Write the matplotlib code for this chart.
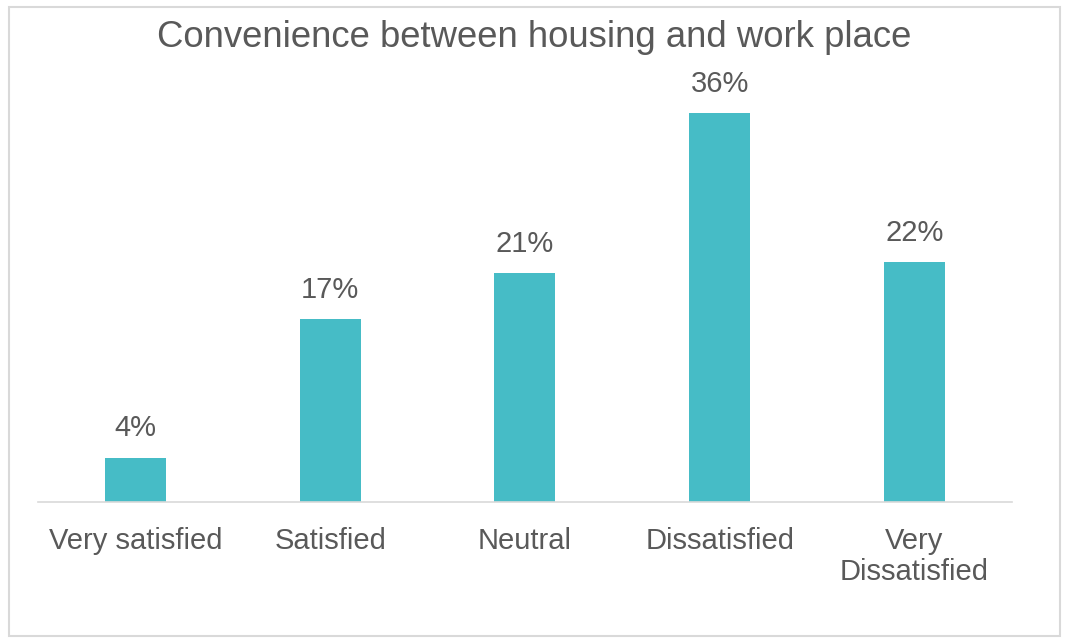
import matplotlib
matplotlib.use("Agg")
import matplotlib.pyplot as plt
from matplotlib.patches import Rectangle

# -----------------------------------------------------------
# Data
# -----------------------------------------------------------
categories  = ["Very satisfied", "Satisfied", "Neutral", "Dissatisfied", "Very\nDissatisfied"]
values      = [4.1, 16.9, 21.2, 36.0, 22.2]
labels      = ["4%", "17%", "21%", "36%", "22%"]

title       = "Convenience between housing and work place"

# -----------------------------------------------------------
# Style
# -----------------------------------------------------------
plt.rcParams["font.family"] = ["Liberation Sans", "DejaVu Sans"]
bar_color   = "#46BCC6"
text_color  = "#595959"
line_color  = "#D9D9D9"

fig = plt.figure(figsize=(10.69, 6.43), dpi=100)
ax  = fig.add_axes([0.0355, 0.2193, 0.9111, 0.6719])

x = list(range(len(categories)))
bars = ax.bar(x, values, width=0.313, color=bar_color)

for xi, v, lab in zip(x, values, labels):
    ax.annotate(lab, (xi, v), xytext=(0, 11), textcoords="offset points",
                ha="center", va="bottom", fontsize=21, color=text_color)

ax.set_xlim(-0.5, len(categories) - 0.5)
ax.set_ylim(0, 40)
ax.set_xticks(x)
ax.set_xticklabels(categories, fontsize=21, color=text_color, linespacing=1.12)
ax.tick_params(axis="x", length=0, pad=18)
ax.set_yticks([])

for side in ["top", "right", "left"]:
    ax.spines[side].set_visible(False)
ax.spines["bottom"].set_color(line_color)
ax.spines["bottom"].set_linewidth(1.2)

fig.text(0.5, 0.942, title, ha="center", va="center", fontsize=26.3, color=text_color)

# outer chart border
fig.patches.append(Rectangle((9 / 1069, 7 / 643), 1051 / 1069, 629 / 643,
                             transform=fig.transFigure, fill=False,
                             edgecolor=line_color, linewidth=1.5))

fig.savefig("out.png", dpi=100)
